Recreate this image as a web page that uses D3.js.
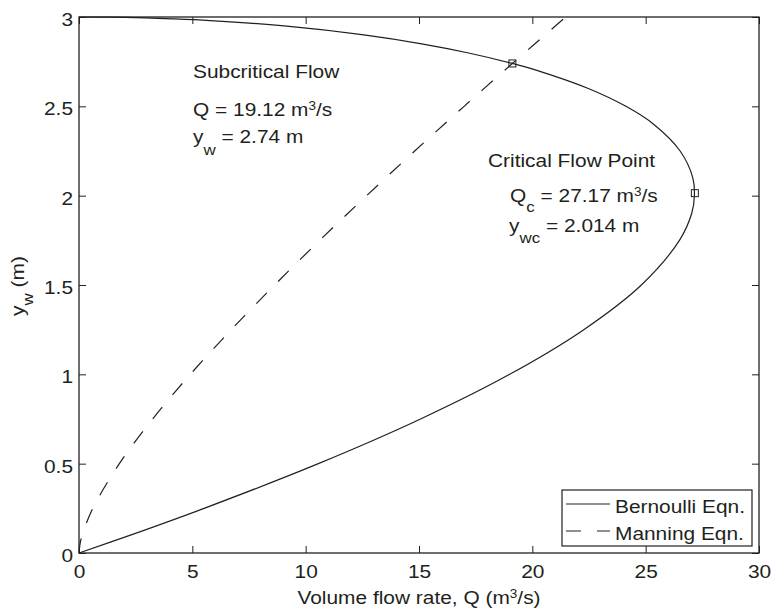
<!DOCTYPE html>
<html>
<head>
<meta charset="utf-8">
<script src="https://cdn.jsdelivr.net/npm/d3@7"></script>
<style>
  html, body { margin: 0; padding: 0; background: #fff; }
  svg { display: block; }
  text { font-family: "Liberation Sans", Arial, Helvetica, sans-serif; fill: #231f20; }
</style>
</head>
<body>
<svg id="chart" width="772" height="612"></svg>
<script>
// ---- Data ----
const bernoulliY = [0, 0.1, 0.25, 0.5, 0.75, 1.0, 1.25, 1.5, 1.75, 1.9, 2.0, 2.1, 2.25, 2.4, 2.5, 2.6, 2.7, 2.74, 2.8, 2.85, 2.9, 2.95, 2.98, 2.99, 2.995, 2.999, 3.0];
const bernoulliQ = [0, 2.27, 5.52, 10.56, 15.07, 19.00, 22.27, 24.81, 26.49, 27.03, 27.15, 27.08, 26.52, 25.35, 24.13, 22.47, 20.23, 19.12, 17.14, 15.12, 12.57, 9.05, 5.78, 4.10, 2.91, 1.30, 0];

const manningY = [0, 0.05, 0.1, 0.25, 0.5, 0.75, 1.0, 1.25, 1.5, 1.75, 2.0, 2.25, 2.5, 2.74, 3.0];
const manningQ = [0, 0.045, 0.14, 0.61, 1.78, 3.25, 4.91, 6.72, 8.63, 10.62, 12.69, 14.81, 16.99, 19.12, 21.47];

const markerQ = [19.12, 27.17];
const markerY = [2.74, 2.014];

const xTicks = [0, 5, 10, 15, 20, 25, 30];
const yTicks = [0, 0.5, 1, 1.5, 2, 2.5, 3];

const legendLabels = ["Bernoulli Eqn.", "Manning Eqn."];

// ---- Layout ----
const svg = d3.select("#chart");
const L = 79, R = 759, T = 17, B = 553;
const x = d3.scaleLinear().domain([0, 30]).range([L, R]);
const y = d3.scaleLinear().domain([0, 3]).range([B, T]);
const ink = "#231f20";
const FS = 18.5, SX = 1.13;

// Axes (inward ticks)
const fmt = d3.format("~g");
const gx = svg.append("g").attr("transform", `translate(0,${B})`)
  .call(d3.axisBottom(x).tickValues(xTicks).tickFormat(fmt).tickSizeInner(-7).tickSizeOuter(0).tickPadding(12));
const gy = svg.append("g").attr("transform", `translate(${L},0)`)
  .call(d3.axisLeft(y).tickValues(yTicks).tickFormat(fmt).tickSizeInner(-7).tickSizeOuter(0).tickPadding(6));
const gxt = svg.append("g").attr("transform", `translate(0,${T})`)
  .call(d3.axisTop(x).tickValues(xTicks).tickFormat("").tickSizeInner(-7).tickSizeOuter(0));
const gyr = svg.append("g").attr("transform", `translate(${R},0)`)
  .call(d3.axisRight(y).tickValues(yTicks).tickFormat("").tickSizeInner(-7).tickSizeOuter(0));

[gx, gy, gxt, gyr].forEach(g => {
  g.select(".domain").remove();
  g.selectAll(".tick line").attr("stroke", ink).attr("stroke-width", 1);
});
gx.selectAll(".tick text").attr("font-size", FS).attr("fill", ink)
  .attr("font-family", "Liberation Sans, Arial, sans-serif")
  .attr("transform", `scale(${SX},1)`).attr("x", 0).attr("dy", "0.71em");
gy.selectAll(".tick text").attr("font-size", FS).attr("fill", ink)
  .attr("font-family", "Liberation Sans, Arial, sans-serif")
  .attr("transform", `scale(${SX},1)`).attr("x", -6 / SX).attr("dy", "0.46em");

// Frame
svg.append("rect").attr("x", L).attr("y", T).attr("width", R - L).attr("height", B - T)
  .attr("fill", "none").attr("stroke", ink).attr("stroke-width", 1.3);

// Curves
const bern = bernoulliQ.map((q, i) => [q, bernoulliY[i]]);
const mann = manningQ.map((q, i) => [q, manningY[i]]);
const line = d3.line().x(d => x(d[0])).y(d => y(d[1])).curve(d3.curveCatmullRom.alpha(0.5));

svg.append("path").attr("d", line(bern)).attr("fill", "none").attr("stroke", ink).attr("stroke-width", 1.2);
svg.append("path").attr("d", line(mann)).attr("fill", "none").attr("stroke", ink).attr("stroke-width", 1.2)
  .attr("stroke-dasharray", "15,16");

// Markers
svg.selectAll("rect.mk").data(markerQ).enter().append("rect").attr("class", "mk")
  .attr("x", d => x(d) - 3.5).attr("y", (d, i) => y(markerY[i]) - 3.5)
  .attr("width", 7).attr("height", 7).attr("fill", "none").attr("stroke", ink).attr("stroke-width", 1);

// Rich text helper
function rich(px, py, parts, opts = {}) {
  const rot = opts.rotate ? ` rotate(${opts.rotate})` : "";
  const t = svg.append("text")
    .attr("transform", `translate(${px},${py})${rot} scale(${SX},1)`)
    .attr("font-size", FS)
    .attr("text-anchor", opts.anchor || "start");
  let cur = 0;
  parts.forEach(p => {
    const target = p.sub ? (p.shift || 12) : p.sup ? -(p.shift || 6) : 0;
    const ts = t.append("tspan").text(p.t).attr("dy", target - cur);
    if (p.sub) ts.attr("font-size", 15);
    if (p.sup) ts.attr("font-size", 12);
    cur = target;
  });
  return t;
}

// Annotations
rich(193, 78, [{t: "Subcritical Flow"}]);
rich(193, 116, [{t: "Q = 19.12 m"}, {t: "3", sup: true}, {t: "/s"}]);
rich(193, 143, [{t: "y"}, {t: "w", sub: true, shift: 12}, {t: " = 2.74 m"}]);

rich(488, 167, [{t: "Critical Flow Point"}]);
rich(510, 202, [{t: "Q"}, {t: "c", sub: true, shift: 10}, {t: " = 27.17 m"}, {t: "3", sup: true}, {t: "/s"}]);
rich(509, 232, [{t: "y"}, {t: "wc", sub: true, shift: 11}, {t: " = 2.014 m"}]);

// Axis titles
rich(419, 604, [{t: "Volume flow rate, Q (m"}, {t: "3", sup: true}, {t: "/s)"}], {anchor: "middle"});
rich(24, 286, [{t: "y"}, {t: "w", sub: true, shift: 9}, {t: " (m)"}], {anchor: "middle", rotate: -90});

// Legend
const lg = svg.append("g");
lg.append("rect").attr("x", 562).attr("y", 490).attr("width", 190).attr("height", 56)
  .attr("fill", "#fff").attr("stroke", ink).attr("stroke-width", 1.2);
const legY = [504, 531];
legendLabels.forEach((lab, i) => {
  lg.append("line").attr("x1", 566).attr("x2", 610).attr("y1", legY[i]).attr("y2", legY[i])
    .attr("stroke", ink).attr("stroke-width", 1.2)
    .attr("stroke-dasharray", i === 1 ? "15,16" : null);
  rich(615, legY[i] + 9, [{t: lab}]);
});
</script>
</body>
</html>
